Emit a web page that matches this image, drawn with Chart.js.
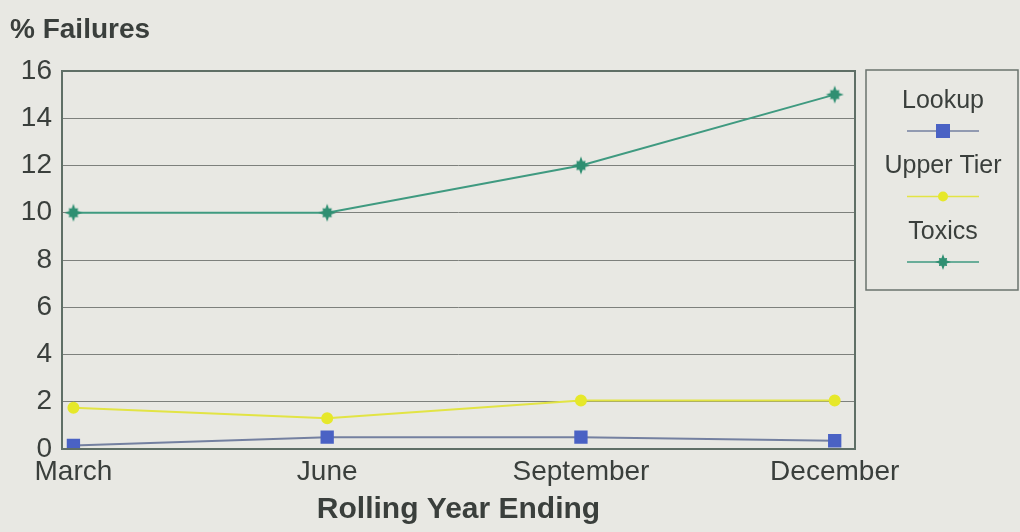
<!DOCTYPE html>
<html>
<head>
<meta charset="utf-8">
<script src="https://cdn.jsdelivr.net/npm/chart.js@4"></script>
<style>
  html, body { margin: 0; padding: 0; background: #e8e8e3; }
  canvas { display: block; }
</style>
</head>
<body>
<canvas id="grafico" width="1020" height="532"></canvas>
<script>
const meses = ["March", "June", "September", "December"];
const lookup = [0.15, 0.5, 0.5, 0.35];
const upperTier = [1.75, 1.3, 2.05, 2.05];
const toxics = [10, 10, 12, 15];
const ticksY = [0, 2, 4, 6, 8, 10, 12, 14, 16];

const fuente = "'Liberation Sans', Arial, sans-serif";
const colorTexto = "#3a3f3c";

function puntos(valores) {
  return valores.map((v, i) => ({ x: i, y: v }));
}

// estrella rellena para la serie Toxics
function crearEstrella(color, r) {
  const lado = r * 2 + 2;
  const cv = document.createElement("canvas");
  cv.width = lado;
  cv.height = lado;
  const c = cv.getContext("2d");
  const m = lado / 2;
  c.fillStyle = color;
  c.beginPath();
  for (let i = 0; i < 16; i++) {
    const ang = (i * Math.PI) / 8 - Math.PI / 2;
    let rad;
    if (i % 4 === 0) rad = r;
    else if (i % 2 === 0) rad = r * 0.72;
    else rad = r * 0.5;
    const px = m + rad * Math.cos(ang);
    const py = m + rad * Math.sin(ang);
    if (i === 0) c.moveTo(px, py);
    else c.lineTo(px, py);
  }
  c.closePath();
  c.fill();
  return cv;
}

const estrella = crearEstrella("#2f8f72", 9);
const estrellaChica = crearEstrella("#2f8f72", 8);

// fondo, marco del area y leyenda al estilo del original
const decorado = {
  id: "decorado",
  beforeDraw(chart) {
    const c = chart.ctx;
    c.save();
    c.fillStyle = "#e8e8e3";
    c.fillRect(0, 0, chart.width, chart.height);
    c.restore();
  },
  afterDraw(chart) {
    const c = chart.ctx;
    const a = chart.chartArea;
    c.save();
    c.strokeStyle = "#5f6f66";
    c.lineWidth = 2;
    c.strokeRect(a.left, a.top, a.right - a.left, a.bottom - a.top);

    // titulo del eje y
    c.fillStyle = colorTexto;
    c.font = "bold 28px " + fuente;
    c.textAlign = "left";
    c.textBaseline = "middle";
    c.fillText("% Failures", 10, 30);

    // leyenda
    const lx = 866, ly = 70, lw = 152, lh = 220;
    c.strokeStyle = "#6a736e";
    c.lineWidth = 1.5;
    c.strokeRect(lx, ly, lw, lh);
    const cx = lx + lw / 2 + 1;
    chart.data.datasets.forEach((ds, i) => {
      const ty = 101 + i * 65.5;
      c.fillStyle = colorTexto;
      c.font = "25px " + fuente;
      c.textAlign = "center";
      c.fillText(ds.label, cx, ty);
      const my = ty + 30;
      c.strokeStyle = ds.borderColor;
      c.lineWidth = 1.5;
      c.beginPath();
      c.moveTo(cx - 36, my);
      c.lineTo(cx + 36, my);
      c.stroke();
      c.fillStyle = ds.pointBackgroundColor;
      if (ds.pointStyle === "rect") {
        const r = 7;
        c.fillRect(cx - r, my - r, 2 * r, 2 * r);
      } else if (ds.pointStyle === "circle") {
        c.beginPath();
        c.arc(cx, my, 5, 0, Math.PI * 2);
        c.fill();
      } else {
        c.drawImage(estrellaChica, cx - estrellaChica.width / 2, my - estrellaChica.height / 2);
      }
    });
    c.restore();
  },
};

new Chart(document.getElementById("grafico").getContext("2d"), {
  type: "line",
  data: {
    datasets: [
      {
        label: "Lookup",
        data: puntos(lookup),
        borderColor: "#7480a0",
        borderWidth: 2,
        pointStyle: "rect",
        pointRadius: 8,
        pointBackgroundColor: "#4a62c4",
        pointBorderColor: "#4a62c4",
        tension: 0,
      },
      {
        label: "Upper Tier",
        data: puntos(upperTier),
        borderColor: "#e2e444",
        borderWidth: 2,
        pointStyle: "circle",
        pointRadius: 5,
        pointBackgroundColor: "#e6e82a",
        pointBorderColor: "#e6e82a",
        tension: 0,
      },
      {
        label: "Toxics",
        data: puntos(toxics),
        borderColor: "#3f9a80",
        borderWidth: 2,
        pointStyle: estrella,
        pointRadius: 9,
        pointBackgroundColor: "#2f8f72",
        pointBorderColor: "#2f8f72",
        tension: 0,
      },
    ],
  },
  options: {
    responsive: false,
    maintainAspectRatio: false,
    animation: false,
    layout: { padding: { top: 71, right: 165, left: 0, bottom: 0 } },
    plugins: {
      legend: { display: false },
      tooltip: { enabled: false },
      title: { display: false },
    },
    scales: {
      x: {
        type: "linear",
        min: -0.045,
        max: 3.08,
        afterBuildTicks(scale) {
          scale.ticks = meses.map((m, i) => ({ value: i }));
        },
        afterFit(scale) { scale.height = 83; },
        grid: { display: false, drawTicks: false },
        border: { display: false },
        ticks: {
          callback: (v) => meses[v],
          color: colorTexto,
          font: { family: fuente, size: 28 },
          padding: 6,
          maxRotation: 0,
          autoSkip: false,
        },
        title: {
          display: true,
          text: "Rolling Year Ending",
          color: colorTexto,
          font: { family: fuente, size: 30, weight: "bold" },
          padding: { top: 4 },
        },
      },
      y: {
        min: 0,
        max: 16,
        afterBuildTicks(scale) {
          scale.ticks = ticksY.map((v) => ({ value: v }));
        },
        afterFit(scale) { scale.width = 62; },
        grid: { color: "#7d807c", lineWidth: 1, drawTicks: false },
        border: { display: false },
        ticks: {
          color: colorTexto,
          font: { family: fuente, size: 28 },
          padding: 10,
        },
      },
    },
  },
  plugins: [decorado],
});
</script>
</body>
</html>
